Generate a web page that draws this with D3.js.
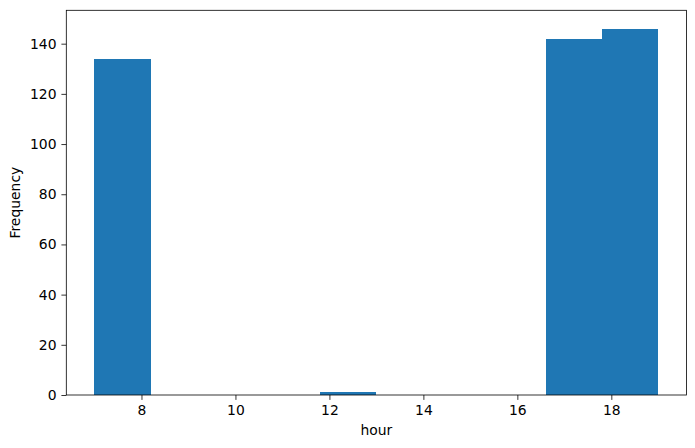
<!DOCTYPE html>
<html>
<head>
<meta charset="utf-8">
<script src="https://cdn.jsdelivr.net/npm/d3@7"></script>
<style>
  body { margin: 0; background: #fff; }
  text { font-family: "DejaVu Sans", sans-serif; }
</style>
</head>
<body>
<svg id="chart" width="695" height="448"></svg>
<script>
// histogram bins (hour) and counts
var binStarts = [7, 8.2, 9.4, 10.6, 11.8, 13, 14.2, 15.4, 16.6, 17.8];
var binEnds   = [8.2, 9.4, 10.6, 11.8, 13, 14.2, 15.4, 16.6, 17.8, 19];
var counts    = [134, 0, 0, 0, 1, 0, 0, 0, 142, 146];
var xTicks = [8, 10, 12, 14, 16, 18];
var yTicks = [0, 20, 40, 60, 80, 100, 120, 140];

var margin = { top: 10.3, right: 8.5, bottom: 53, left: 66.3 },
    width = 695 - margin.left - margin.right,
    height = 448 - margin.top - margin.bottom;

var svg = d3.select("#chart");
var g = svg.append("g")
    .attr("transform", "translate(" + margin.left + "," + margin.top + ")");

var x = d3.scaleLinear()
    .domain([6.4, 19.6])
    .range([0, width]);

var y = d3.scaleLinear()
    .domain([0, 146 * 1.05])
    .range([height, 0]);

// bars
g.selectAll("rect.bar")
    .data(counts)
    .enter()
    .append("rect")
    .attr("class", "bar")
    .attr("x", function (d, i) { return x(binStarts[i]); })
    .attr("y", function (d) { return y(d); })
    .attr("width", function (d, i) { return x(binEnds[i]) - x(binStarts[i]); })
    .attr("height", function (d) { return height - y(d); })
    .attr("fill", "#1f77b4")
    .attr("shape-rendering", "crispEdges");

// axes
var xAxis = d3.axisBottom(x)
    .tickValues(xTicks)
    .tickSize(4.9)
    .tickPadding(4.9);
var yAxis = d3.axisLeft(y)
    .tickValues(yTicks)
    .tickSize(4.9)
    .tickPadding(4.9);

var gx = g.append("g")
    .attr("transform", "translate(0," + height + ")")
    .call(xAxis);
var gy = g.append("g").call(yAxis);

[gx, gy].forEach(function (a) {
    a.select(".domain").remove();
    a.selectAll("line").attr("stroke", "#000").attr("stroke-width", 0.8);
    a.selectAll("text")
        .attr("fill", "#000")
        .style("font-size", "13.9px")
        .style("font-family", "DejaVu Sans");
});

// frame
g.append("rect")
    .attr("x", 0)
    .attr("y", 0)
    .attr("width", width)
    .attr("height", height)
    .attr("fill", "none")
    .attr("stroke", "#000")
    .attr("stroke-width", 0.8);

// axis labels
g.append("text")
    .attr("x", width / 2)
    .attr("y", height + 40)
    .attr("text-anchor", "middle")
    .style("font-size", "13.9px")
    .text("hour");

g.append("text")
    .attr("transform", "rotate(-90)")
    .attr("x", -height / 2)
    .attr("y", -46)
    .attr("text-anchor", "middle")
    .style("font-size", "13.9px")
    .text("Frequency");
</script>
</body>
</html>
